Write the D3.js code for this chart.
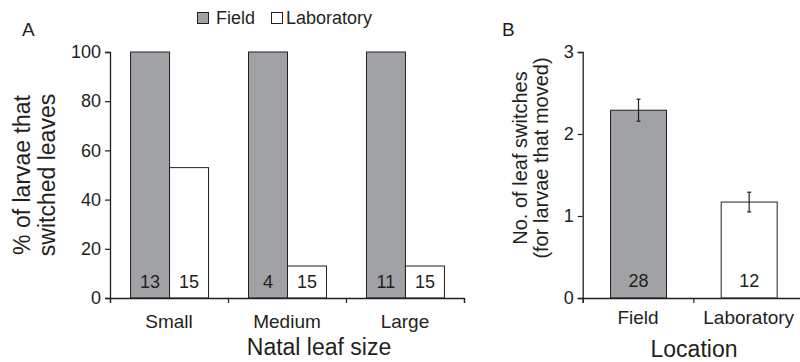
<!DOCTYPE html>
<html>
<head>
<meta charset="utf-8">
<script src="https://cdn.jsdelivr.net/npm/d3@7"></script>
<style>
  html, body { margin: 0; padding: 0; background: #fff; }
  svg { display: block; font-family: "Liberation Sans", Arial, Helvetica, sans-serif; }
</style>
</head>
<body>
<svg id="chart" width="800" height="362"></svg>
<script>
// ---- Data ----
const sizeCategories = ["Small", "Medium", "Large"];
const seriesNames = ["Field", "Laboratory"];
const fieldPercent = [100, 100, 100];
const labPercent = [53, 13, 13];
const fieldN = [13, 4, 11];
const labN = [15, 15, 15];
const yTicksA = [0, 20, 40, 60, 80, 100];

const locations = ["Field", "Laboratory"];
const switchMeans = [2.29, 1.17];
const switchErrors = [0.135, 0.12];
const locationN = [28, 12];
const yTicksB = [0, 1, 2, 3];

// ---- Styles ----
const ink = "#231f20";
const grayFill = "#a1a2a5";
const colors = { "Field": grayFill, "Laboratory": "#ffffff" };
const FONT = "Liberation Sans, Arial, Helvetica, sans-serif";

const svg = d3.select("#chart");

// ================= Panel A =================
const A = { left: 110, right: 464, top: 52, bottom: 298 };
const yA = d3.scaleLinear().domain([0, 100]).range([A.bottom, A.top]);
const x0 = d3.scaleBand().domain(sizeCategories).range([A.left, A.right])
  .paddingInner(0.339).paddingOuter(0.17);
const x1 = d3.scaleBand().domain(seriesNames).range([0, x0.bandwidth()]);
const xBoundA = d3.scaleLinear().domain([0, sizeCategories.length]).range([A.left, A.right]);

const rowsA = sizeCategories.map((c, i) => ({
  cat: c,
  vals: [
    { s: "Field", v: fieldPercent[i], n: fieldN[i] },
    { s: "Laboratory", v: labPercent[i], n: labN[i] }
  ]
}));

const gA = svg.append("g");
const groups = gA.selectAll("g.grp").data(rowsA).join("g")
  .attr("transform", d => `translate(${x0(d.cat)},0)`);
groups.selectAll("rect").data(d => d.vals).join("rect")
  .attr("x", d => x1(d.s) + 0.5)
  .attr("y", d => yA(d.v))
  .attr("width", x1.bandwidth())
  .attr("height", d => yA(0) - yA(d.v))
  .attr("fill", d => colors[d.s])
  .attr("stroke", ink)
  .attr("stroke-width", 1);
groups.selectAll("text").data(d => d.vals).join("text")
  .attr("x", d => x1(d.s) + x1.bandwidth() / 2 + 0.5)
  .attr("y", 288)
  .attr("text-anchor", "middle")
  .attr("font-size", 18)
  .attr("fill", ink)
  .text(d => d.n);

// y axis A
gA.append("g").attr("class", "axis").attr("transform", `translate(${A.left},0)`)
  .call(d3.axisLeft(yA).tickValues(yTicksA).tickSize(5).tickPadding(4));
// x axis A (ticks at band boundaries)
gA.append("g").attr("class", "axis").attr("transform", `translate(0,${A.bottom})`)
  .call(d3.axisBottom(xBoundA).ticks(3).tickSize(5).tickFormat(""));
gA.append("g").selectAll("text").data(sizeCategories).join("text")
  .attr("x", d => x0(d) + x0.bandwidth() / 2)
  .attr("y", 328)
  .attr("text-anchor", "middle")
  .attr("font-size", 19)
  .attr("fill", ink)
  .text(d => d);
gA.append("text").attr("x", 319).attr("y", 355).attr("text-anchor", "middle")
  .attr("font-size", 23).attr("fill", ink).text("Natal leaf size");
const yLabA = gA.append("text").attr("transform", "translate(0,175) rotate(-90)")
  .attr("text-anchor", "middle").attr("font-size", 23).attr("fill", ink);
yLabA.append("tspan").attr("x", 0).attr("y", 30).text("% of larvae that");
yLabA.append("tspan").attr("x", 0).attr("y", 55).text("switched leaves");
gA.append("text").attr("x", 22).attr("y", 36).attr("font-size", 19).attr("fill", ink).text("A");

// legend
const legend = svg.append("g");
const legendX = [197, 271];
const legendTextX = [216, 286];
seriesNames.forEach((s, i) => {
  legend.append("rect").attr("x", legendX[i] + 0.5).attr("y", 12.5).attr("width", 11).attr("height", 11)
    .attr("fill", colors[s]).attr("stroke", ink).attr("stroke-width", 1);
  legend.append("text").attr("x", legendTextX[i]).attr("y", 24).attr("font-size", 18)
    .attr("fill", ink).text(s);
});

// ================= Panel B =================
const B = { left: 582.7, right: 804, top: 52, bottom: 298 };
const yB = d3.scaleLinear().domain([0, 3]).range([B.bottom, B.top]);
const xB = d3.scaleBand().domain(locations).range([B.left, B.right])
  .paddingInner(0.494).paddingOuter(0.247);
const xBoundB = d3.scaleLinear().domain([0, locations.length]).range([B.left, B.right]);
const rowsB = locations.map((l, i) => ({ loc: l, m: switchMeans[i], e: switchErrors[i], n: locationN[i] }));

const gB = svg.append("g");
gB.selectAll("rect").data(rowsB).join("rect")
  .attr("x", d => xB(d.loc) + 0.5)
  .attr("y", d => yB(d.m))
  .attr("width", xB.bandwidth())
  .attr("height", d => yB(0) - yB(d.m))
  .attr("fill", d => colors[d.loc])
  .attr("stroke", ink).attr("stroke-width", 1);
const eb = gB.selectAll("g.eb").data(rowsB).join("g");
eb.append("line")
  .attr("x1", d => xB(d.loc) + xB.bandwidth() / 2 + 0.5)
  .attr("x2", d => xB(d.loc) + xB.bandwidth() / 2 + 0.5)
  .attr("y1", d => yB(d.m + d.e)).attr("y2", d => yB(d.m - d.e))
  .attr("stroke", ink).attr("stroke-width", 1.2);
[1, -1].forEach(sgn => {
  eb.append("line")
    .attr("x1", d => xB(d.loc) + xB.bandwidth() / 2 - 1.5)
    .attr("x2", d => xB(d.loc) + xB.bandwidth() / 2 + 2.5)
    .attr("y1", d => yB(d.m + sgn * d.e)).attr("y2", d => yB(d.m + sgn * d.e))
    .attr("stroke", ink).attr("stroke-width", 1.2);
});
gB.selectAll("text.n").data(rowsB).join("text")
  .attr("x", d => xB(d.loc) + xB.bandwidth() / 2 + 0.5)
  .attr("y", 287)
  .attr("text-anchor", "middle")
  .attr("font-size", 18)
  .attr("fill", ink)
  .text(d => d.n);

gB.append("g").attr("class", "axis").attr("transform", `translate(${B.left},0)`)
  .call(d3.axisLeft(yB).tickValues(yTicksB).tickSize(5).tickPadding(4).tickFormat(d3.format("d")));
gB.append("g").attr("class", "axis").attr("transform", `translate(0,${B.bottom})`)
  .call(d3.axisBottom(xBoundB).ticks(2).tickSize(5).tickFormat(""));
gB.append("g").selectAll("text").data(locations).join("text")
  .attr("x", d => xB(d) + xB.bandwidth() / 2)
  .attr("y", 324)
  .attr("text-anchor", "middle")
  .attr("font-size", 19)
  .attr("fill", ink)
  .text(d => d);
gB.append("text").attr("x", 694).attr("y", 357).attr("text-anchor", "middle")
  .attr("font-size", 23).attr("fill", ink).text("Location");
const yLabB = gB.append("text").attr("transform", "translate(0,158) rotate(-90)")
  .attr("text-anchor", "middle").attr("font-size", 20).attr("fill", ink);
yLabB.append("tspan").attr("x", 0).attr("y", 527).text("No. of leaf switches");
yLabB.append("tspan").attr("x", 0).attr("y", 548).text("(for larvae that moved)");
gB.append("text").attr("x", 502).attr("y", 36).attr("font-size", 19).attr("fill", ink).text("B");

// axis styling
svg.selectAll(".axis").attr("font-family", FONT).attr("font-size", 18);
svg.selectAll(".domain").attr("stroke", ink).attr("stroke-width", 1.3);
svg.selectAll(".tick line").attr("stroke", ink).attr("stroke-width", 1.2);
svg.selectAll(".tick text").attr("fill", ink);
</script>
</body>
</html>
